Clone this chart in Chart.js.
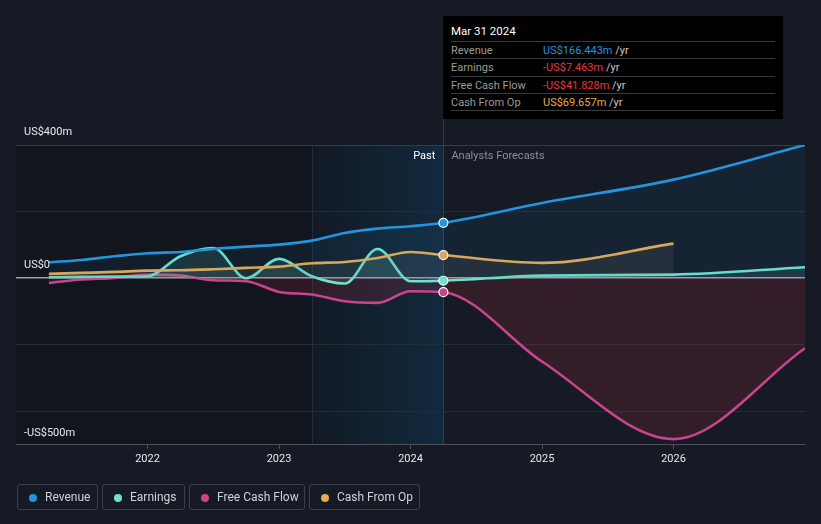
<!DOCTYPE html>
<html>
<head>
<meta charset="utf-8">
<script src="https://cdn.jsdelivr.net/npm/chart.js@4/dist/chart.umd.min.js"></script>
<style>
  html, body { margin: 0; padding: 0; background: #151a24; font-family: Roboto, "Open Sans", sans-serif; }
  #wrap { position: relative; width: 821px; height: 524px; overflow: hidden; }
  #chart { position: absolute; left: 0; top: 0; }
  .tip { position: absolute; left: 443px; top: 16px; width: 340px; height: 103px; background: #000; color: #fff; font-size: 11px; }
  .tip .date { position: absolute; left: 8px; top: 8px; font-size: 11.5px; color: #fff; }
  .tip .row { position: absolute; left: 8px; width: 324px; height: 17px; border-top: 1px solid #3a3a3a; line-height: 17px; }
  .tip .row .lab { position: absolute; left: 0; color: #9a9a9a; }
  .tip .row .val { position: absolute; left: 92px; }
  .tip .row .yr { color: #c8c8c8; }
  .tip .last { position: absolute; left: 8px; top: 94px; width: 324px; border-top: 1px solid #3a3a3a; }
  .legend { position: absolute; top: 484px; height: 26px; border: 1px solid #3b404a; border-radius: 3px; box-sizing: border-box; color: #cfd2d8; font-size: 12px; line-height: 25px; }
  .legend i { position: absolute; left: 11px; top: 9px; width: 8px; height: 8px; border-radius: 50%; }
  .legend span { position: absolute; left: 27px; }
</style>
</head>
<body>
<div id="wrap">
  <canvas id="chart" width="821" height="524"></canvas>
  <div class="tip">
    <div class="date">Mar 31 2024</div>
    <div class="row" style="top:25px"><span class="lab">Revenue</span><span class="val"><span style="color:#2394df">US$166.443m</span> <span class="yr">/yr</span></span></div>
    <div class="row" style="top:42px"><span class="lab">Earnings</span><span class="val"><span style="color:#e8383b">-US$7.463m</span> <span class="yr">/yr</span></span></div>
    <div class="row" style="top:60px"><span class="lab">Free Cash Flow</span><span class="val"><span style="color:#e8383b">-US$41.828m</span> <span class="yr">/yr</span></span></div>
    <div class="row" style="top:77px"><span class="lab">Cash From Op</span><span class="val"><span style="color:#e8a94f">US$69.657m</span> <span class="yr">/yr</span></span></div>
    <div class="last"></div>
  </div>
  <div class="legend" style="left:17px;width:81px"><i style="background:#2394df"></i><span>Revenue</span></div>
  <div class="legend" style="left:102px;width:83px"><i style="background:#6de3cf"></i><span>Earnings</span></div>
  <div class="legend" style="left:189px;width:116px"><i style="background:#c9448a"></i><span>Free Cash Flow</span></div>
  <div class="legend" style="left:309px;width:111px"><i style="background:#e8a94f"></i><span>Cash From Op</span></div>
</div>
<script>
// quarterly trailing-twelve-month history, then analyst forecasts (US$m)
const pastYears = [2021.25, 2021.5, 2021.75, 2022, 2022.25, 2022.5, 2022.75, 2023, 2023.25, 2023.5, 2023.75, 2024, 2024.25];
const forecastYears = [2025, 2026, 2027];

const revenuePast = [48, 55, 66, 75, 79, 88, 95, 101, 113, 136, 149, 156, 166.443];
const revenueForecast = [226, 296, 400];
const earningsPast = [3, 4, 5, 6, 66, 91, 0, 58, 6, -16, 88, -9, -7.463];
const earningsForecast = [8, 11, 33];
const fcfPast = [-14, -4, 1, 11, 8, -6, -9, -41, -49, -69, -74, -39, -41.828];
const fcfForecast = [-250, -483, -210];
const cfoPast = [13, 16, 19, 23, 24, 27, 31, 35, 45, 49, 61, 79, 69.657];
const cfoForecast = [46, 104];

const yearTicks = [2022, 2023, 2024, 2025, 2026];
const yTicks = [-500, -400, -200, 0, 200, 400];
const yLabels = { 400: "US$400m", 0: "US$0", "-500": "-US$500m" };

const nowYear = 2024.25;
const highlightStart = 2023.25;

function points(past, forecast) {
  const out = past.map((v, i) => ({ x: pastYears[i], y: v }));
  forecast.forEach((v, i) => out.push({ x: forecastYears[i], y: v }));
  return out;
}

function series(label, color, fillColor, data, order) {
  return {
    label: label,
    data: data,
    borderColor: color,
    backgroundColor: fillColor,
    fill: 'origin',
    borderWidth: 2.6,
    cubicInterpolationMode: 'monotone',
    pointRadius: ctx => (ctx.raw && ctx.raw.x === nowYear ? 4.5 : 0),
    pointBackgroundColor: color,
    pointBorderColor: '#ffffff',
    pointBorderWidth: 1.2,
    order: order,
  };
}

const backdrop = {
  id: 'backdrop',
  beforeDraw(chart) {
    const { ctx, chartArea: a, scales: { x } } = chart;
    const xNow = x.getPixelForValue(nowYear);
    const xHi = x.getPixelForValue(highlightStart);
    ctx.save();
    ctx.fillStyle = '#11151d';
    ctx.fillRect(a.left, a.top, xNow - a.left, a.bottom - a.top);
    const g = ctx.createLinearGradient(xHi, 0, xNow, 0);
    g.addColorStop(0, '#111a24');
    g.addColorStop(1, '#12293d');
    ctx.fillStyle = g;
    ctx.fillRect(xHi, a.top, xNow - xHi, a.bottom - a.top);
    ctx.strokeStyle = '#1f3142';
    ctx.lineWidth = 1;
    ctx.beginPath();
    ctx.moveTo(xHi + 0.5, a.top); ctx.lineTo(xHi + 0.5, a.bottom);
    ctx.stroke();
    ctx.strokeStyle = '#2a4052';
    ctx.beginPath();
    ctx.moveTo(Math.round(xNow) + 0.5, 16); ctx.lineTo(Math.round(xNow) + 0.5, a.bottom);
    ctx.stroke();
    ctx.restore();
  },
  afterDraw(chart) {
    const { ctx, chartArea: a, scales: { x, y } } = chart;
    const xNow = x.getPixelForValue(nowYear);
    ctx.save();
    ctx.font = '11px Roboto';
    ctx.textBaseline = 'middle';
    ctx.fillStyle = '#e6e8ec';
    for (const v of [400, 0, -500]) {
      ctx.textAlign = 'left';
      ctx.fillText(yLabels[v], 24, y.getPixelForValue(v) - (v === -500 ? 12 : 13));
    }
    ctx.textAlign = 'right';
    ctx.fillStyle = '#ffffff';
    ctx.fillText('Past', xNow - 8, a.top + 11);
    ctx.textAlign = 'left';
    ctx.fillStyle = '#8a8f98';
    ctx.fillText('Analysts Forecasts', xNow + 8, a.top + 11);
    ctx.restore();
  }
};

new Chart(document.getElementById('chart'), {
  type: 'line',
  data: {
    datasets: [
      series('Revenue', '#2394df', 'rgba(35,148,223,0.08)', points(revenuePast, revenueForecast), 1),
      series('Earnings', '#6de3cf', 'rgba(110,227,207,0.12)', points(earningsPast, earningsForecast), 3),
      series('Free Cash Flow', '#c9448a', 'rgba(200,50,70,0.17)', points(fcfPast, fcfForecast), 4),
      series('Cash From Op', '#e8a94f', 'rgba(150,150,140,0.12)', points(cfoPast, cfoForecast), 2),
    ]
  },
  options: {
    responsive: false,
    animation: false,
    layout: { padding: { left: 16, right: 16, top: 145, bottom: 54 } },
    plugins: { legend: { display: false }, tooltip: { enabled: false } },
    scales: {
      x: {
        type: 'linear',
        min: 2021,
        max: 2027,
        afterBuildTicks: s => { s.ticks = yearTicks.map(v => ({ value: v })); },
        ticks: { color: '#e6e8ec', font: { family: 'Roboto', size: 11 }, padding: 4, callback: v => String(v), maxRotation: 0 },
        grid: { drawOnChartArea: false, drawTicks: true, tickLength: 4, color: '#4a4f59' },
        border: { color: '#4a4f59', width: 1 },
      },
      y: {
        min: -500,
        max: 400,
        afterBuildTicks: s => { s.ticks = yTicks.map(v => ({ value: v })); },
        afterFit: s => { s.width = 0; },
        ticks: { display: false },
        grid: {
          drawTicks: false,
          color: c => (c.tick.value === 0 ? '#a89da2' : c.tick.value === -500 ? 'rgba(0,0,0,0)' : c.tick.value === 400 ? '#363c47' : '#262c36'),
          lineWidth: c => (c.tick.value === 0 ? 1.6 : 1),
        },
        border: { display: false },
      }
    }
  },
  plugins: [backdrop]
});
</script>
</body>
</html>
